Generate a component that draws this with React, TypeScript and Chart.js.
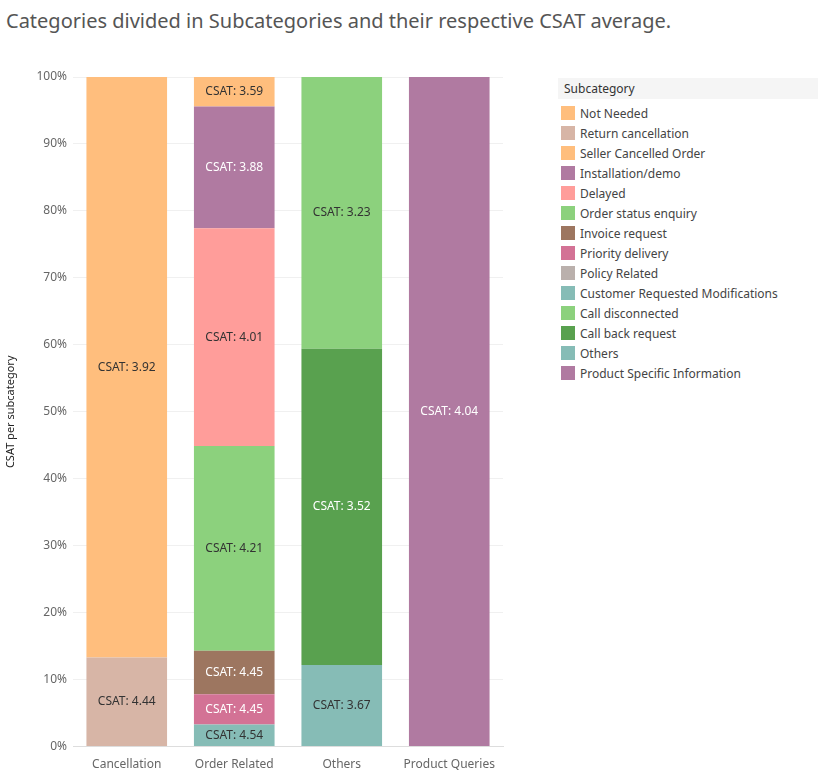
import { useEffect, useRef } from 'react';
import { Chart, registerables } from 'chart.js';

Chart.register(...registerables);

const categories = ['Cancellation', 'Order Related', 'Others', 'Product Queries'];
const subcategories = [
  'Not Needed', 'Return cancellation', 'Seller Cancelled Order', 'Installation/demo', 'Delayed',
  'Order status enquiry', 'Invoice request', 'Priority delivery', 'Policy Related',
  'Customer Requested Modifications', 'Call disconnected', 'Call back request', 'Others',
  'Product Specific Information',
];
const colors = [
  '#FFBE7D', '#D7B5A6', '#FFBE7D', '#B07AA1', '#FF9D9A', '#8CD17D', '#9D7660', '#D37295',
  '#BAB0AC', '#86BCB6', '#8CD17D', '#59A14F', '#86BCB6', '#B07AA1',
];
// stack order bottom -> top
const stackOrder = [
  'Return cancellation', 'Not Needed',
  'Customer Requested Modifications', 'Priority delivery', 'Invoice request', 'Order status enquiry',
  'Delayed', 'Installation/demo', 'Seller Cancelled Order',
  'Others', 'Call back request', 'Call disconnected', 'Policy Related',
  'Product Specific Information',
];
// share (%) per category, order as in `categories`
const shares: Record<string, number[]> = {
  'Return cancellation': [13.3, 0, 0, 0],
  'Not Needed': [86.7, 0, 0, 0],
  'Customer Requested Modifications': [0, 3.3, 0, 0],
  'Priority delivery': [0, 4.5, 0, 0],
  'Invoice request': [0, 6.5, 0, 0],
  'Order status enquiry': [0, 30.6, 0, 0],
  'Delayed': [0, 32.5, 0, 0],
  'Installation/demo': [0, 18.2, 0, 0],
  'Seller Cancelled Order': [0, 4.4, 0, 0],
  'Others': [0, 0, 12.2, 0],
  'Call back request': [0, 0, 47.2, 0],
  'Call disconnected': [0, 0, 40.6, 0],
  'Policy Related': [0, 0, 0, 0],
  'Product Specific Information': [0, 0, 0, 100],
};
const csat: Record<string, (number | null)[]> = {
  'Return cancellation': [4.44, null, null, null],
  'Not Needed': [3.92, null, null, null],
  'Customer Requested Modifications': [null, 4.54, null, null],
  'Priority delivery': [null, 4.45, null, null],
  'Invoice request': [null, 4.45, null, null],
  'Order status enquiry': [null, 4.21, null, null],
  'Delayed': [null, 4.01, null, null],
  'Installation/demo': [null, 3.88, null, null],
  'Seller Cancelled Order': [null, 3.59, null, null],
  'Others': [null, null, 3.67, null],
  'Call back request': [null, null, 3.52, null],
  'Call disconnected': [null, null, 3.23, null],
  'Policy Related': [null, null, null, null],
  'Product Specific Information': [null, null, null, 4.04],
};
const whiteText = ['Installation/demo', 'Priority delivery', 'Invoice request', 'Call back request', 'Product Specific Information'];
const yTicks = [0, 10, 20, 30, 40, 50, 60, 70, 80, 90, 100];

const FONT = "'Noto Sans', sans-serif";

const labelPlugin = {
  id: 'csatLabels',
  afterDatasetsDraw(chart: Chart) {
    const ctx = chart.ctx;
    ctx.save();
    ctx.font = `12px ${FONT}`;
    ctx.textAlign = 'center';
    ctx.textBaseline = 'middle';
    chart.data.datasets.forEach((ds: any, i) => {
      const meta = chart.getDatasetMeta(i);
      meta.data.forEach((bar: any, j) => {
        const v = csat[ds.label][j];
        if (v == null) return;
        const p = bar.getProps(['x', 'y', 'base']);
        ctx.fillStyle = whiteText.includes(ds.label) ? '#ffffff' : '#333333';
        ctx.fillText(`CSAT: ${v.toFixed(2)}`, p.x, (p.y + p.base) / 2);
      });
    });
    ctx.restore();
  },
};

export default function App() {
  const ref = useRef<HTMLCanvasElement>(null);
  const inst = useRef<Chart | null>(null);

  useEffect(() => {
    if (!ref.current) return;
    if (inst.current) inst.current.destroy();
    inst.current = new Chart(ref.current, {
      type: 'bar',
      data: {
        labels: categories,
        datasets: stackOrder.map((s) => ({
          label: s,
          data: shares[s],
          backgroundColor: colors[subcategories.indexOf(s)],
          borderWidth: 0,
          categoryPercentage: 1,
          barPercentage: 0.75,
        })),
      },
      options: {
        animation: false,
        responsive: false,
        layout: { padding: { top: 37, right: 7, bottom: 0, left: 0 } },
        plugins: { legend: { display: false }, tooltip: { enabled: false } },
        scales: {
          x: {
            stacked: true,
            grid: { display: false },
            border: { color: '#ddd' },
            ticks: { color: '#666', font: { family: FONT, size: 12 } },
          },
          y: {
            stacked: true,
            min: 0,
            max: 100,
            afterFit: (s: any) => { s.width = 73; },
            afterBuildTicks: (s: any) => { s.ticks = yTicks.map((v) => ({ value: v })); },
            grid: { color: '#f0f0f0', drawTicks: false },
            border: { display: false },
            title: { display: true, text: 'CSAT per subcategory', color: '#222', font: { family: FONT, size: 11 } },
            ticks: { color: '#666', padding: 6, font: { family: FONT, size: 12 }, callback: (v: any) => `${v}%` },
          },
        },
      },
      plugins: [labelPlugin],
    });
    return () => { inst.current?.destroy(); };
  }, []);

  return (
    <div style={{ position: 'absolute', left: 0, top: 0, width: 822, height: 775, background: '#fff', fontFamily: FONT }}>
      <div style={{ position: 'absolute', left: 6, top: 7, fontSize: 20, color: '#555' }}>
        Categories divided in Subcategories and their respective CSAT average.
      </div>
      <canvas ref={ref} width={510} height={735} style={{ position: 'absolute', left: 0, top: 40 }} />
      <div style={{ position: 'absolute', left: 558, top: 78, width: 260 }}>
        <div style={{ background: '#f5f5f5', fontSize: 12, color: '#333', padding: '2px 6px', marginBottom: 4 }}>Subcategory</div>
        {subcategories.map((s, i) => (
          <div key={s} style={{ display: 'flex', alignItems: 'center', height: 20, fontSize: 12, color: '#444' }}>
            <span style={{ width: 14, height: 14, background: colors[i], marginLeft: 3, marginRight: 5, flexShrink: 0 }} />
            {s}
          </div>
        ))}
      </div>
    </div>
  );
}
